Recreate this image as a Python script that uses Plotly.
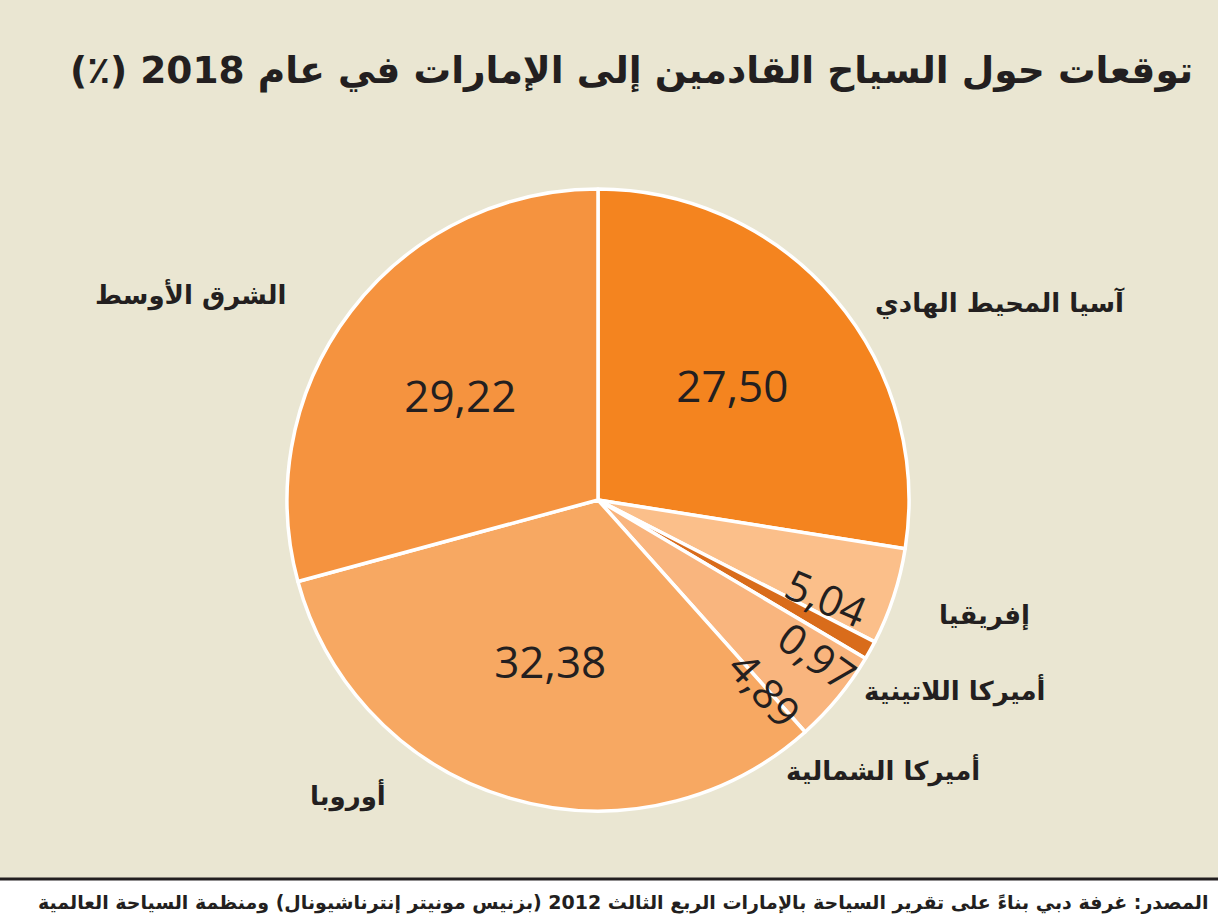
import math
import plotly.graph_objects as go

# Data
regions = ["آسيا المحيط الهادي", "إفريقيا", "أميركا اللاتينية",
           "أميركا الشمالية", "أوروبا", "الشرق الأوسط"]
shares = [27.50, 5.04, 0.97, 4.89, 32.38, 29.22]
colors = ["#F4841F", "#FBBF8A", "#D96C1B", "#F9B57E", "#F7A862", "#F5933F"]

title = "توقعات حول السياح القادمين إلى الإمارات في عام 2018 (٪)"
source = ("المصدر: غرفة دبي بناءً على تقرير السياحة بالإمارات الربع الثالث 2012 "
          "(بزنيس مونيتر إنترناشيونال) ومنظمة السياحة العالمية")

W, H = 1218, 920
BG = "#EAE6D2"
INK = "#231F20"
ARABIC = "DejaVu Sans"
NUM_FONT = "Open Sans"
RLM = "\u200F"

# pie geometry (pixels)
cx, cy, R = 598, 500, 311


def fmt(v):
    return f"{v:.2f}".replace(".", ",")


big = [v >= 10 for v in shares]
pie_text = [fmt(v) if b else "" for v, b in zip(shares, big)]

fig = go.Figure(go.Pie(
    labels=regions,
    values=shares,
    sort=False,
    direction="clockwise",
    rotation=0,
    marker=dict(colors=colors, line=dict(color="white", width=3.5)),
    text=pie_text,
    textinfo="text",
    textposition="inside",
    insidetextorientation="horizontal",
    textfont=dict(family=NUM_FONT, size=44, color=INK),
    domain=dict(x=[(cx - R) / W, (cx + R) / W], y=[1 - (cy + R) / H, 1 - (cy - R) / H]),
    showlegend=False,
    hoverinfo="label+value",
))

annotations = []

# small slices: radial numbers placed from the cumulative angle
nudge = {1: (5, 0.80), 2: (6.5, 0.865), 3: (9, 0.81)}
cum = 0
for i, v in enumerate(shares):
    mid = (cum + v / 2) / 100 * 360
    cum += v
    if big[i]:
        continue
    d_ang, rf = nudge.get(i, (0, 0.8))
    a = math.radians(mid + d_ang)
    px = cx + rf * R * math.sin(a)
    py = cy - rf * R * math.cos(a)
    annotations.append(dict(
        x=px / W, y=1 - py / H, xref="paper", yref="paper",
        xanchor="center", yanchor="middle",
        text=fmt(v), showarrow=False, textangle=mid - 90 + d_ang,
        font=dict(family=NUM_FONT, size=42, color=INK),
    ))

# category labels around the pie (right edge, vertical centre)
label_pos = [(1127, 303), (1032, 615), (1048, 690),
             (982, 770), (388, 795), (288, 295)]
for name, (lx, ly) in zip(regions, label_pos):
    annotations.append(dict(
        x=lx / W, y=1 - ly / H, xref="paper", yref="paper",
        text="<b>" + name + "</b>", showarrow=False, xanchor="right", yanchor="middle",
        font=dict(family=ARABIC, size=26, color=INK),
    ))

annotations.append(dict(
    x=1195 / W, y=1 - 70 / H, xref="paper", yref="paper",
    text="<b>" + title + RLM + "</b>", showarrow=False, xanchor="right", yanchor="middle",
    font=dict(family=ARABIC, size=37.5, color=INK),
))
annotations.append(dict(
    x=1210 / W, y=1 - 902 / H, xref="paper", yref="paper",
    text="<b>" + source + RLM + "</b>", showarrow=False, xanchor="right", yanchor="middle",
    font=dict(family=ARABIC, size=19, color=INK),
))

shapes = [
    dict(type="rect", xref="paper", yref="paper", x0=0, x1=1, y0=0, y1=1 - 879 / H,
         fillcolor="white", line=dict(width=0), layer="below"),
    dict(type="line", xref="paper", yref="paper", x0=0, x1=1,
         y0=1 - 879 / H, y1=1 - 879 / H, line=dict(color=INK, width=3)),
]

fig.update_layout(
    width=W, height=H,
    margin=dict(l=0, r=0, t=0, b=0),
    paper_bgcolor=BG,
    plot_bgcolor=BG,
    annotations=annotations,
    shapes=shapes,
)

fig.write_html("out.html", config={"displayModeBar": False},
               post_script="document.body.style.margin='0';")
